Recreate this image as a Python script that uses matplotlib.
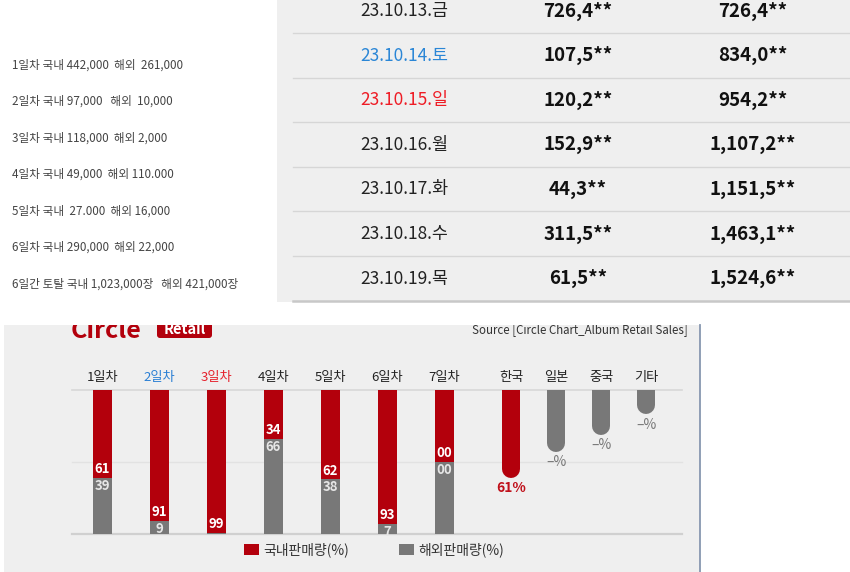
import numpy as np
import matplotlib
matplotlib.use('Agg')
import matplotlib.pyplot as plt
from matplotlib.patches import Rectangle, FancyBboxPatch

plt.rcParams['font.family'] = ['Noto Sans CJK KR', 'DejaVu Sans']

# memo on the left
memo_days = ['1일차', '2일차', '3일차', '4일차', '5일차', '6일차']
memo_domestic = ['442,000', '97,000 ', '118,000', '49,000', ' 27.000', '290,000']
memo_overseas = [' 261,000', ' 10,000', '2,000', '110.000', '16,000', '22,000']
memo_total = '6일간 토탈 국내 1,023,000장   해외 421,000장'

# table
dates = ['23.10.13.금', '23.10.14.토', '23.10.15.일', '23.10.16.월',
         '23.10.17.화', '23.10.18.수', '23.10.19.목']
daily_sales = ['726,4**', '107,5**', '120,2**', '152,9**', '44,3**', '311,5**', '61,5**']
total_sales = ['726,4**', '834,0**', '954,2**', '1,107,2**', '1,151,5**',
               '1,463,1**', '1,524,6**']
date_colors = ['#222222', '#2a86d6', '#ee1c25', '#222222', '#222222', '#222222', '#222222']

# chart
days = ['1일차', '2일차', '3일차', '4일차', '5일차', '6일차', '7일차']
day_colors = ['#222222', '#2a7fd4', '#e5202b', '#222222', '#222222', '#222222', '#222222']
domestic_pct = [61, 91, 99, 34, 62, 93, 50]
overseas_pct = [39, 9, 1, 66, 38, 7, 50]
domestic_labels = ['61', '91', '99', '34', '62', '93', '00']
overseas_labels = ['39', '9', '', '66', '38', '7', '00']
countries = ['한국', '일본', '중국', '기타']
country_pct = [61, 43, 31, 17]
country_labels = ['61%', '–%', '–%', '–%']

RED = '#b3000c'
GRAY = '#787878'
PANEL = '#efefef'

W, H = 850, 572
fig = plt.figure(figsize=(W / 100, H / 100), dpi=100)
fig.patch.set_facecolor('white')


def px_axes(x0, y0, x1, y1):
    a = fig.add_axes([x0 / W, 1 - y1 / H, (x1 - x0) / W, (y1 - y0) / H])
    return a


# background layer in pixel coords
bg = px_axes(0, 0, W, H)
bg.set_xlim(0, W)
bg.set_ylim(H, 0)
bg.axis('off')

for i in range(len(memo_days)):
    bg.text(12, 65 + i * 36.5, f'{memo_days[i]} 국내 {memo_domestic[i]}  해외 {memo_overseas[i]}',
            fontsize=8.4, color='#444444', va='center')
bg.text(12, 65 + len(memo_days) * 36.5, memo_total, fontsize=8.4, color='#444444', va='center')

bg.add_patch(Rectangle((277, 0), 573, 302, facecolor=PANEL, edgecolor='none'))
row_h = 44.6
for i in range(len(dates)):
    yc = 11 + i * row_h
    bg.text(404, yc, dates[i], ha='center', va='center', fontsize=12.5, color=date_colors[i])
    bg.text(578, yc, daily_sales[i], ha='center', va='center', fontsize=13.5,
            fontweight='bold', color='#111111')
    bg.text(753, yc, total_sales[i], ha='center', va='center', fontsize=13.5,
            fontweight='bold', color='#111111')
    last = i == len(dates) - 1
    bg.plot([293, 850], [33 + i * row_h] * 2, color='#c8c8c8' if last else '#d6d6d6',
            lw=1.8 if last else 1)

# chart panel
panel = px_axes(4, 325, 700, H)
panel.set_xlim(4, 700)
panel.set_ylim(H, 325)
panel.set_facecolor(PANEL)
panel.set_xticks([])
panel.set_yticks([])
for s in ['top', 'left', 'bottom']:
    panel.spines[s].set_visible(False)
panel.spines['right'].set_color('#8797b0')
panel.spines['right'].set_linewidth(1.3)

panel.text(71, 337.5, 'Circle', fontsize=18, fontweight='heavy', color=RED,
           va='baseline', ha='left', clip_on=True)
box = FancyBboxPatch((157, 316), 55, 22, boxstyle='round,pad=0,rounding_size=3',
                     facecolor=RED, edgecolor='none')
panel.add_patch(box)
panel.text(184.5, 334.5, 'Retail', fontsize=10.5, fontweight='bold', color='white',
           ha='center', va='baseline', clip_on=True)
panel.text(688, 330, 'Source [Circle Chart_Album Retail Sales]', ha='right', va='center',
           fontsize=8.3, color='#333333', clip_on=True)

# bar chart
ax = px_axes(72, 390, 682, 534)
ax.patch.set_alpha(0)
for s in ax.spines.values():
    s.set_visible(False)
ax.set_xticks([])
ax.set_yticks([])

day_pos = np.arange(len(days))
country_pos = 7.17 + 0.79 * np.arange(len(countries))
ax.set_xlim(-0.535, 10.17)
ax.set_ylim(100, 0)

for y, c, lw in [(0, '#d8d8d8', 1.2), (50, '#e2e2e2', 1), (100, '#d0d0d0', 1.6)]:
    ax.axhline(y, color=c, lw=lw, zorder=0, clip_on=False)

bw = 0.34
red_bars = ax.bar(day_pos, domestic_pct, bw, bottom=0, color=RED, zorder=2)
gray_bars = ax.bar(day_pos, overseas_pct, bw, bottom=domestic_pct, color=GRAY, zorder=2)

for i in range(len(days)):
    ax.text(day_pos[i], -8.5, days[i], ha='center', va='center', fontsize=9.5,
            color=day_colors[i], clip_on=False)
    ax.text(day_pos[i], domestic_pct[i] - 6, domestic_labels[i], ha='center', va='center',
            fontsize=9.5, fontweight='bold', color='white', zorder=3)
    if overseas_labels[i]:
        ax.text(day_pos[i], domestic_pct[i] + 5.5, overseas_labels[i], ha='center',
                va='center', fontsize=9.5, fontweight='bold', color='#e6e6e6', zorder=3)

# rounded country bars
cap_w = 18  # px
r = (cap_w / 2) / 144 * 100
for i in range(len(countries)):
    col = RED if i == 0 else GRAY
    ax.plot([country_pos[i]] * 2, [-10, country_pct[i] - r], color=col,
            lw=cap_w * 72 / 100, solid_capstyle='round', zorder=2)
    ax.text(country_pos[i], -8.5, countries[i], ha='center', va='center', fontsize=9.5,
            color='#222222', clip_on=False)
    ax.text(country_pos[i], country_pct[i] + 7, country_labels[i], ha='center', va='center',
            fontsize=10, fontweight='bold' if i == 0 else 'normal',
            color='#c0101a' if i == 0 else '#777777', clip_on=False)

ax.legend([red_bars, gray_bars], ['국내판매량(%)', '해외판매량(%)'], loc='center left',
          bbox_to_anchor=(244 / W, 1 - 550 / H), bbox_transform=fig.transFigure,
          ncol=2, frameon=False, fontsize=10, handlelength=1.1, handleheight=0.85,
          handletextpad=0.3, columnspacing=3.6, borderpad=0, borderaxespad=0,
          labelcolor='#333333')

fig.savefig('out.png', dpi=100, facecolor='white')
